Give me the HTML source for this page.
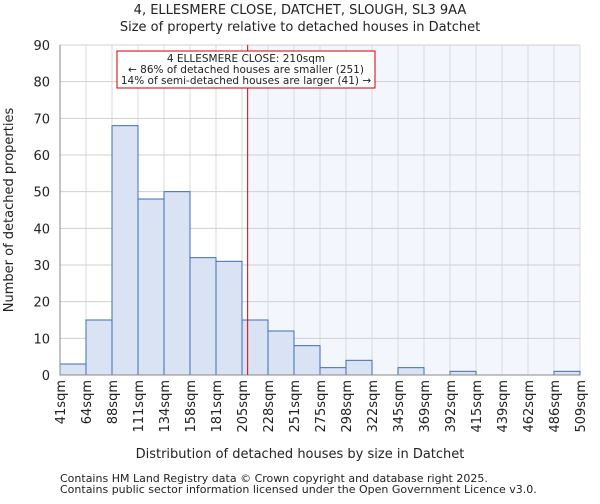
<!DOCTYPE html>
<html><head><meta charset="utf-8"><style>
body{margin:0;background:#fff;font-family:"DejaVu Sans","Liberation Sans",sans-serif;}
svg text{font-family:"DejaVu Sans","Liberation Sans",sans-serif;fill:#222;}
</style></head><body>
<svg id="c" width="600" height="500">
<text x="300" y="14" text-anchor="middle" font-size="13">4, ELLESMERE CLOSE, DATCHET, SLOUGH, SL3 9AA</text>
<text x="300" y="31" text-anchor="middle" font-size="13">Size of property relative to detached houses in Datchet</text>
<text x="300" y="458" text-anchor="middle" font-size="13">Distribution of detached houses by size in Datchet</text>
<text transform="translate(13,210) rotate(-90)" text-anchor="middle" font-size="13">Number of detached properties</text>
<text x="60" y="482" font-size="11">Contains HM Land Registry data © Crown copyright and database right 2025.</text>
<text x="60" y="493" font-size="11">Contains public sector information licensed under the Open Government Licence v3.0.</text>
</svg>
<script>
const labels=["41sqm","64sqm","88sqm","111sqm","134sqm","158sqm","181sqm","205sqm","228sqm","251sqm","275sqm","298sqm","322sqm","345sqm","369sqm","392sqm","415sqm","439sqm","462sqm","486sqm","509sqm"];
const yTicks=[0,10,20,30,40,50,60,70,80,90];
const edges=[41,64,88,111,134,158,181,205,228,251,275,298,322,345,369,392,415,439,462,486,509];
const binValues=[3,15,68,48,50,32,31,15,12,8,2,4,0,2,0,1,0,0,0,1];
const subject=210;
const X0=60,X1=580,Y0=375,Y1=45,YMAX=90;
const n=binValues.length;
const bx=i=>X0+(X1-X0)*i/n;
const y=v=>Y0-(Y0-Y1)*v/YMAX;
const xv=v=>{for(let i=0;i<edges.length-1;i++){if(v<=edges[i+1])return bx(i)+(v-edges[i])/(edges[i+1]-edges[i])*(bx(i+1)-bx(i));}return X1;};
const svg=document.getElementById('c');
const NS='http://www.w3.org/2000/svg';
function mk(t,a){const e=document.createElementNS(NS,t);for(const k in a)e.setAttribute(k,a[k]);svg.appendChild(e);return e;}
const sx=xv(subject);
let r=mk('rect',{x:sx,y:Y1,width:X1-sx,height:Y0-Y1,fill:'#f3f6fd'});


for(let i=0;i<=n;i++){let l=mk('line',{x1:bx(i),x2:bx(i),y1:Y1,y2:Y0,stroke:'#dadada','stroke-width':1});

}
yTicks.forEach(t=>{let l=mk('line',{x1:X0,x2:X1,y1:y(t),y2:y(t),stroke:'#d0d0d0','stroke-width':1});


let tx=mk('text',{x:X0-10,y:y(t)+5,'text-anchor':'end','font-size':13});tx.textContent=t;

});
binValues.forEach((v,i)=>{if(v<=0)return;let b=mk('rect',{x:bx(i),y:y(v),width:bx(i+1)-bx(i),height:Y0-y(v),fill:'#dae3f3',stroke:'#3d6cb4','stroke-width':1});

});
labels.forEach((s,i)=>{let tx=mk('text',{transform:`translate(${bx(i)+5},380) rotate(-90)`,'text-anchor':'end','font-size':13});tx.textContent=s;

});
let ax=mk('path',{d:`M${X0} ${Y1}V${Y0}H${X1}`,fill:'none',stroke:'#888'});


let rl=mk('line',{x1:sx,x2:sx,y1:Y1,y2:Y0,stroke:'#dd0000','stroke-width':1});


let box=mk('rect',{x:117,y:51,width:258,height:37,fill:'#fff',stroke:'#cc0000','stroke-width':1});


["4 ELLESMERE CLOSE: 210sqm","← 86% of detached houses are smaller (251)","14% of semi-detached houses are larger (41) →"].forEach((s,i)=>{let t=mk('text',{x:246,y:62+i*11,'text-anchor':'middle','font-size':10.5});t.textContent=s;

});
</script>
</body></html>
